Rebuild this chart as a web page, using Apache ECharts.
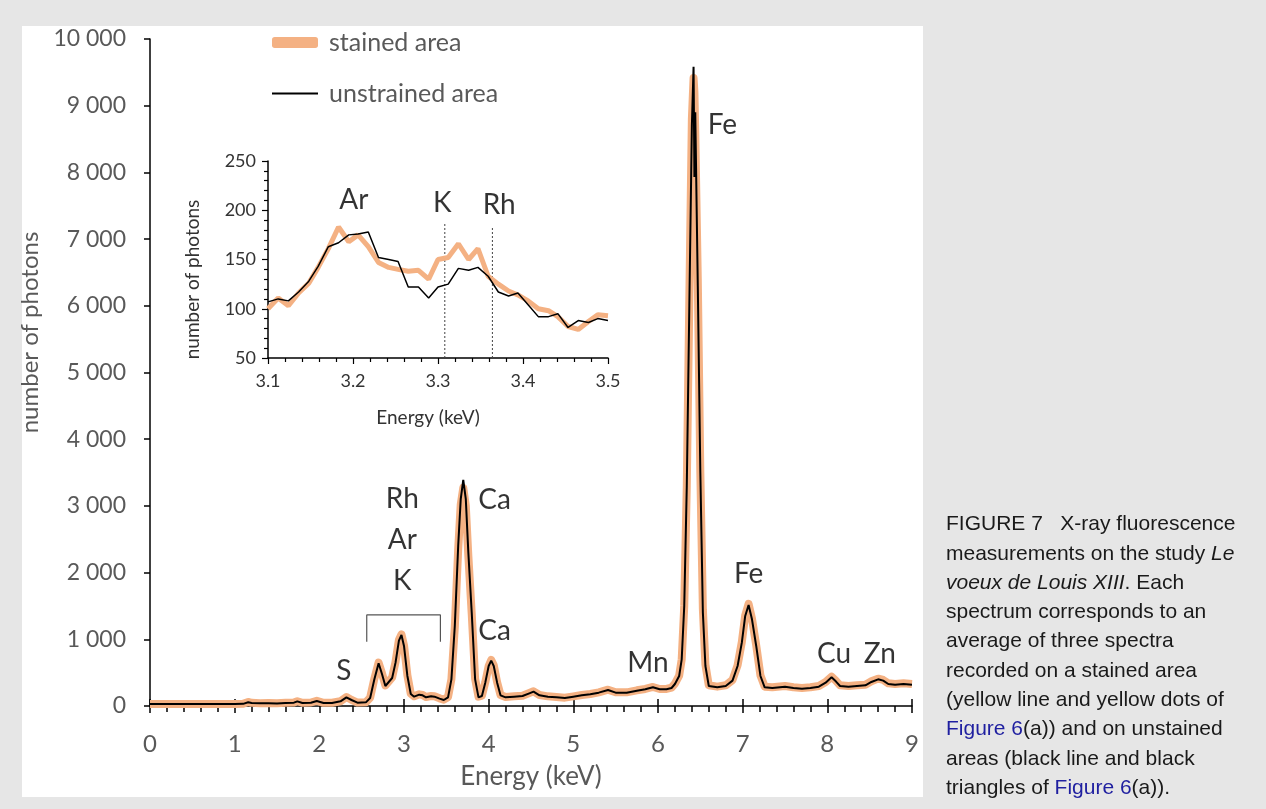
<!DOCTYPE html>
<html>
<head>
<meta charset="utf-8">
<script src="https://cdn.jsdelivr.net/npm/echarts@6/dist/echarts.min.js"></script>
<style>
html,body{margin:0;padding:0;background:#e6e6e6;}
#chart{width:1266px;height:809px;}
</style>
</head>
<body>
<div id="chart"></div>
<script>
// ---------- main spectrum (Energy keV, photons) ----------
const mainE = [0.00,0.50,1.00,1.10,1.16,1.20,1.30,1.40,1.50,1.60,1.70,1.74,1.80,1.90,1.97,2.05,2.15,2.25,2.32,2.38,2.45,2.55,2.60,2.65,2.70,2.74,2.78,2.82,2.86,2.90,2.94,2.97,3.00,3.04,3.08,3.12,3.18,3.22,3.26,3.32,3.36,3.42,3.47,3.52,3.56,3.60,3.64,3.67,3.70,3.73,3.76,3.80,3.84,3.88,3.92,3.96,4.00,4.03,4.06,4.10,4.14,4.20,4.30,4.40,4.48,4.53,4.60,4.70,4.80,4.90,5.00,5.10,5.20,5.30,5.41,5.50,5.63,5.75,5.85,5.94,6.02,6.10,6.16,6.20,6.25,6.28,6.31,6.34,6.37,6.40,6.42,6.43,6.44,6.47,6.50,6.53,6.56,6.60,6.70,6.80,6.88,6.94,6.99,7.03,7.07,7.11,7.16,7.21,7.26,7.35,7.50,7.60,7.70,7.80,7.90,7.98,8.05,8.10,8.15,8.25,8.35,8.45,8.52,8.60,8.66,8.72,8.80,8.90,9.00];
const mainUnstained = [30,30,30,32,55,45,40,42,38,45,50,70,45,50,75,45,45,70,130,90,50,55,120,400,640,480,300,360,420,650,980,1065,900,450,180,140,170,160,130,145,140,110,90,130,400,1200,2400,3100,3390,3100,2300,1400,400,130,150,350,600,680,600,350,160,130,140,150,190,215,160,140,130,120,140,160,175,200,240,200,200,230,250,280,250,250,270,330,450,700,1500,3300,6000,8700,9585,7930,8900,6300,3500,1400,600,300,280,300,380,600,950,1350,1515,1300,900,450,280,270,290,270,260,270,290,350,430,370,300,290,300,310,360,400,380,330,320,330,320];
const mainStained = [30,30,30,32,60,48,42,44,40,48,52,72,48,52,78,48,48,72,135,92,52,58,125,410,650,490,310,370,430,660,990,1075,910,460,185,145,175,165,135,150,145,115,95,135,400,1180,2350,3020,3270,3000,2250,1380,410,140,155,355,600,690,610,355,165,135,145,155,195,220,165,145,135,125,145,165,180,205,245,205,205,235,255,285,255,255,275,335,455,700,1500,3300,6100,8800,9415,9200,8600,6400,3500,1450,620,310,290,310,390,610,960,1360,1530,1310,910,460,290,280,300,280,270,280,300,360,440,380,310,300,310,320,370,410,390,340,330,340,330];

// ---------- inset spectrum ----------
const insetE = [3.100,3.112,3.124,3.136,3.148,3.159,3.171,3.183,3.195,3.206,3.218,3.230,3.242,3.253,3.265,3.277,3.289,3.300,3.312,3.324,3.336,3.347,3.359,3.371,3.383,3.394,3.406,3.418,3.430,3.441,3.453,3.465,3.477,3.488,3.500];
const insetUnstained = [107,110,108,117,128,143,163,167,175,176,178,152,150,148,122,122,111,122,125,141,139,142,133,117,113,116,104,92,92,95,81,88,86,90,88];
const insetStained = [100,111,103,116,126,142,161,183,168,175,163,147,142,140,138,139,130,150,152,166,150,161,133,125,118,114,108,100,98,92,82,79,87,94,93];

// ---------- annotations ----------
const peakLabels = ['S','Rh\nAr\nK','Ca','Ca','Mn','Fe','Fe','Cu','Zn'];
const peakLabelE = [2.29,2.98,4.07,4.07,5.88,6.76,7.07,8.08,8.62];
const peakLabelV = [525,2489,3088,1124,645,8710,1979,780,780];
const bracketE = [2.56,2.56,3.43,3.43];
const bracketV = [965,1365,1365,965];
const insetLabels = ['Ar','K','Rh'];
const insetLabelE = [3.201,3.305,3.372];
const insetLabelV = [210,207,205];
const kLineE = 3.308, kLineTop = 187;
const rhLineE = 3.364, rhLineTop = 184;

const captionLines = [
  'FIGURE 7   X-ray fluorescence',
  'measurements on the study {i|Le}',
  '{i|voeux de Louis XIII}. Each',
  'spectrum corresponds to an',
  'average of three spectra',
  'recorded on a stained area',
  '(yellow line and yellow dots of',
  '{b|Figure 6}(a)) and on unstained',
  'areas (black line and black',
  'triangles of {b|Figure 6}(a)).'
];

const zip = (a, b) => a.map((v, i) => [v, b[i]]);
const ORANGE = '#F4B183';
const GREY = '#595959';
const LFONT = 'Lato';
const CFONT = 'Liberation Sans';
const CSIZE = 21;

const chart = echarts.init(document.getElementById('chart'));

const fmtThousands = v => {
  if (v < 1000) return String(v);
  return Math.floor(v / 1000) + ' ' + String(v % 1000).padStart(3, '0');
};

const captionGraphics = captionLines.map((t, i) => ({
  type: 'text',
  left: 946,
  top: 514 + i * 29.3,
  style: {
    text: t,
    fill: '#1a1a1a',
    fontSize: CSIZE,
    fontFamily: CFONT,
    rich: {
      i: {fontStyle: 'italic', fontSize: CSIZE, fontFamily: CFONT, fill: '#1a1a1a'},
      b: {fontSize: CSIZE, fontFamily: CFONT, fill: '#1f1fa0'}
    }
  },
  z: 10
}));

const legendText = {fontFamily: LFONT, fontSize: 25, color: GREY, padding: [0, 0, 0, 6]};

const option = {
  animation: false,
  backgroundColor: '#e6e6e6',
  graphic: [
    {type: 'rect', shape: {x: 22, y: 26, width: 901, height: 771}, style: {fill: '#ffffff'}, z: -10}
  ].concat(captionGraphics),
  legend: [
    {
      left: 272, top: 30, padding: 0, itemWidth: 46, itemHeight: 11,
      icon: 'roundRect', textStyle: legendText,
      data: [{name: 'stained area', itemStyle: {color: ORANGE}}]
    },
    {
      left: 272, top: 81, padding: 0, itemWidth: 46, itemHeight: 2,
      icon: 'rect', textStyle: legendText,
      data: [{name: 'unstrained area', itemStyle: {color: '#000'}}]
    }
  ],
  grid: [
    {left: 150, top: 39, width: 762, height: 667},
    {left: 268, top: 161, width: 340, height: 197}
  ],
  xAxis: [
    {
      gridIndex: 0, type: 'value', min: 0, max: 9, interval: 1,
      name: 'Energy (keV)', nameLocation: 'middle', nameGap: 58,
      nameTextStyle: {fontFamily: LFONT, fontSize: 26, color: GREY},
      axisLine: {lineStyle: {color: '#000', width: 1.5}},
      axisTick: {show: true, length: 7, lineStyle: {color: '#000', width: 1.5}},
      minorTick: {show: true, splitNumber: 5, length: 6, lineStyle: {color: '#000', width: 1.5}},
      splitLine: {show: false},
      axisLabel: {fontFamily: LFONT, fontSize: 24, color: GREY, margin: 26}
    },
    {
      gridIndex: 1, type: 'value', min: 3.1, max: 3.5, interval: 0.1,
      name: 'Energy (keV)', nameLocation: 'middle', nameGap: 50,
      nameTextStyle: {fontFamily: LFONT, fontSize: 19, color: '#333', padding: [0, 20, 0, 0]},
      axisLine: {lineStyle: {color: '#000', width: 1.5}},
      axisTick: {show: true, length: 6, lineStyle: {color: '#000', width: 1.2}},
      minorTick: {show: true, splitNumber: 5, length: 4, lineStyle: {color: '#000', width: 1.2}},
      splitLine: {show: false},
      axisLabel: {fontFamily: LFONT, fontSize: 18, color: '#333', margin: 14, formatter: v => v.toFixed(1)}
    },
    {
      gridIndex: 0, type: 'value', min: 0, max: 9, interval: 1, position: 'bottom',
      axisLine: {show: false}, axisLabel: {show: false}, splitLine: {show: false},
      axisTick: {show: true, inside: true, length: 7, lineStyle: {color: '#000', width: 1.5}}
    }
  ],
  yAxis: [
    {
      gridIndex: 0, type: 'value', min: 0, max: 10000, interval: 1000,
      name: 'number of photons', nameLocation: 'middle', nameGap: 104,
      nameTextStyle: {fontFamily: LFONT, fontSize: 24, color: GREY, padding: [0, 0, 0, 80]},
      axisLine: {show: true, lineStyle: {color: '#000', width: 1.5}},
      axisTick: {show: true, length: 6, lineStyle: {color: '#000', width: 1.5}},
      splitLine: {show: false},
      axisLabel: {fontFamily: LFONT, fontSize: 23, color: GREY, margin: 24, formatter: fmtThousands}
    },
    {
      gridIndex: 1, type: 'value', min: 50, max: 250, interval: 50,
      name: 'number of photons', nameLocation: 'middle', nameGap: 66,
      nameTextStyle: {fontFamily: LFONT, fontSize: 19, color: '#333', padding: [0, 40, 0, 0]},
      axisLine: {show: true, lineStyle: {color: '#000', width: 1.5}},
      axisTick: {show: true, length: 6, lineStyle: {color: '#000', width: 1.2}},
      minorTick: {show: true, splitNumber: 5, length: 4, lineStyle: {color: '#000', width: 1.2}},
      splitLine: {show: false},
      axisLabel: {fontFamily: LFONT, fontSize: 18, color: '#333', margin: 12}
    }
  ],
  series: [
    {
      name: 'stained area', type: 'line', xAxisIndex: 0, yAxisIndex: 0,
      data: zip(mainE, mainStained), showSymbol: false, symbol: 'none',
      color: ORANGE, lineStyle: {color: ORANGE, width: 8, join: 'round'}, z: 2
    },
    {
      name: 'unstrained area', type: 'line', xAxisIndex: 0, yAxisIndex: 0,
      data: zip(mainE, mainUnstained), showSymbol: false, symbol: 'none',
      color: '#000', lineStyle: {color: '#000', width: 2}, z: 3
    },
    {
      name: 'bracket', type: 'line', xAxisIndex: 0, yAxisIndex: 0,
      data: zip(bracketE, bracketV), symbol: 'none', silent: true,
      lineStyle: {color: '#555', width: 1.2}, z: 3
    },
    {
      name: 'peak labels', type: 'scatter', xAxisIndex: 0, yAxisIndex: 0,
      symbolSize: 1, itemStyle: {color: 'rgba(0,0,0,0)'}, silent: true,
      data: peakLabels.map((n, i) => ({name: n, value: [peakLabelE[i], peakLabelV[i]]})),
      label: {show: true, position: 'inside', formatter: p => p.name, fontFamily: LFONT, fontSize: 28, color: '#000', lineHeight: 41},
      z: 5
    },
    {
      name: 'stained inset', type: 'line', xAxisIndex: 1, yAxisIndex: 1,
      data: zip(insetE, insetStained), symbol: 'none',
      lineStyle: {color: ORANGE, width: 5}, z: 2
    },
    {
      name: 'unstained inset', type: 'line', xAxisIndex: 1, yAxisIndex: 1,
      data: zip(insetE, insetUnstained), symbol: 'none',
      lineStyle: {color: '#000', width: 1.5}, z: 3
    },
    {
      name: 'K line', type: 'line', xAxisIndex: 1, yAxisIndex: 1,
      data: [[kLineE, 50], [kLineE, kLineTop]], symbol: 'none', silent: true,
      lineStyle: {color: '#444', width: 1, type: [2, 2]}, z: 1
    },
    {
      name: 'Rh line', type: 'line', xAxisIndex: 1, yAxisIndex: 1,
      data: [[rhLineE, 50], [rhLineE, rhLineTop]], symbol: 'none', silent: true,
      lineStyle: {color: '#444', width: 1, type: [2, 2]}, z: 1
    },
    {
      name: 'inset labels', type: 'scatter', xAxisIndex: 1, yAxisIndex: 1,
      symbolSize: 1, itemStyle: {color: 'rgba(0,0,0,0)'}, silent: true,
      data: insetLabels.map((n, i) => ({name: n, value: [insetLabelE[i], insetLabelV[i]]})),
      label: {show: true, position: 'inside', formatter: p => p.name, fontFamily: LFONT, fontSize: 28, color: '#000'},
      z: 5
    }
  ]
};
chart.setOption(option);
</script>
</body>
</html>
